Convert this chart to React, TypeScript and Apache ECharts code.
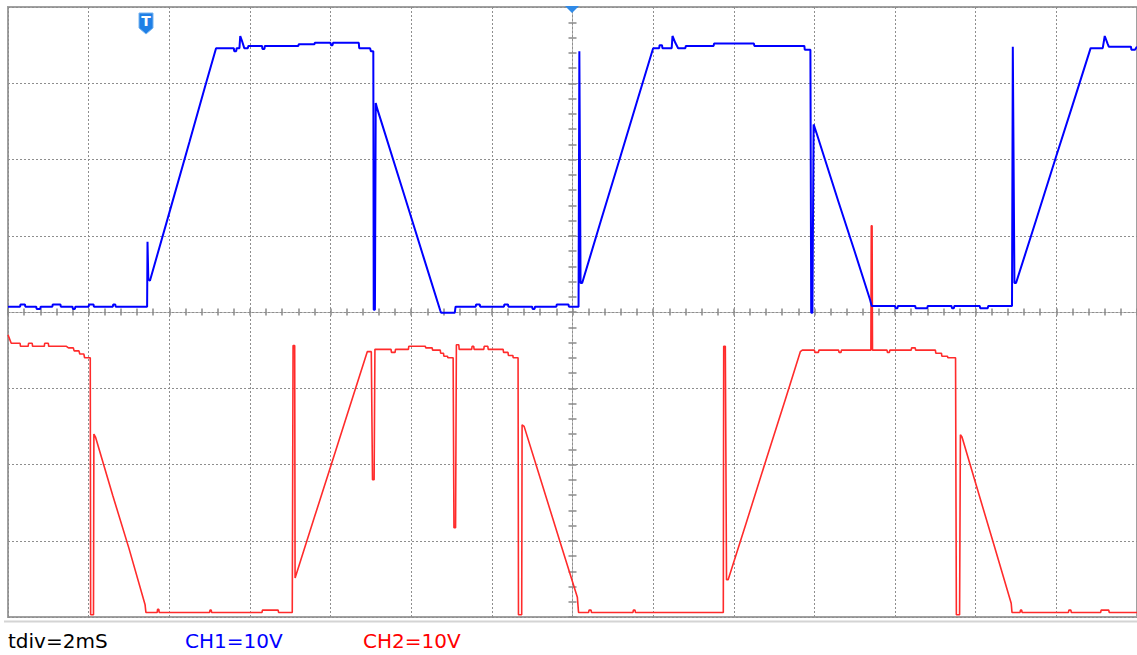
import React, { useEffect, useRef } from "react";
import * as echarts from "echarts";

// time in ms (2 ms/div, 14 div), volts (10 V/div)
const ch1Data: [number, number][] = [
  [0, 0.7], [0.3, 0.7], [0.31, 1.0], [0.42, 1.0], [0.43, 0.7], [0.7, 0.7], [0.71, 0.4], [0.8, 0.4], [0.81, 0.7],
  [1.1, 0.7], [1.11, 1.0], [1.3, 1.0], [1.31, 0.7], [1.6, 0.7], [1.61, 0.4], [1.66, 0.4], [1.67, 0.7],
  [2.0, 0.7], [2.01, 1.0], [2.12, 1.0], [2.13, 0.7], [2.6, 0.7], [2.61, 1.0], [2.66, 1.0], [2.67, 0.7], [3.45, 0.7],
  [3.46, 9.2], [3.48, 4.3], [3.52, 4.1], [4.0, 13.0], [4.5, 22.3], [4.9, 29.8], [5.16, 34.6],
  [5.6, 34.6], [5.61, 34.2], [5.66, 34.2], [5.67, 34.6], [5.74, 34.6], [5.76, 36.2], [5.8, 35.6], [5.86, 34.6],
  [5.95, 34.6], [5.96, 34.9], [6.3, 34.9], [6.31, 34.5], [6.36, 34.5], [6.37, 34.9], [7.2, 34.9], [7.21, 35.1],
  [7.6, 35.1], [7.61, 35.3], [8.0, 35.3], [8.01, 35.0], [8.05, 35.0], [8.06, 35.3], [8.7, 35.3], [8.71, 34.6],
  [8.98, 34.6], [9.0, 34.2], [9.06, 34.2], [9.07, 0.3], [9.1, 0.3], [9.12, 27.4], [9.16, 26.6], [9.25, 25.1],
  [9.8, 15.8], [10.3, 7.3], [10.72, 0.2], [10.74, -0.1], [11.08, -0.1], [11.1, 0.7],
  [11.6, 0.7], [11.61, 1.0], [11.7, 1.0], [11.71, 0.7], [12.3, 0.7], [12.31, 1.0], [12.4, 1.0], [12.41, 0.7],
  [13.0, 0.7], [13.01, 0.4], [13.06, 0.4], [13.07, 0.7], [13.6, 0.7], [13.61, 1.0], [13.9, 1.0], [13.91, 0.7],
  [14.15, 0.7], [14.17, 34.2], [14.2, 3.8], [14.24, 3.8], [14.7, 11.9], [15.2, 20.6], [15.6, 27.6], [16.0, 34.6],
  [16.15, 34.6], [16.16, 35.0], [16.22, 35.0], [16.23, 34.6], [16.46, 34.6], [16.48, 36.2], [16.55, 35.3],
  [16.62, 34.6], [16.8, 34.6], [16.81, 34.9], [17.5, 34.9], [17.51, 35.2], [18.5, 35.2], [18.51, 34.9],
  [19.75, 34.9], [19.76, 34.4], [19.9, 34.4], [19.92, -0.1], [19.95, -0.1], [19.98, 24.6], [20.05, 23.5],
  [20.6, 14.4], [21.0, 7.9], [21.38, 1.6], [21.42, 0.8], [22.0, 0.8], [22.01, 0.5], [22.06, 0.5], [22.07, 0.8],
  [22.5, 0.8], [22.51, 0.5], [22.8, 0.5], [22.81, 0.8], [23.4, 0.8], [23.41, 0.5], [23.46, 0.5], [23.47, 0.8],
  [24.1, 0.8], [24.11, 0.5], [24.3, 0.5], [24.31, 0.8], [24.9, 0.8],
  [24.92, 34.8], [24.96, 3.8], [25.0, 3.8], [25.5, 12.1], [26.0, 20.5], [26.4, 27.1], [26.85, 34.6],
  [27.15, 34.6], [27.2, 36.2], [27.27, 35.2], [27.3, 34.8], [27.85, 34.8], [27.86, 34.4], [27.95, 34.4], [28, 34.8],
];

// CH2 volts measured from its own ground (bottom of screen)
const ch2Data: [number, number][] = [
  [0, 37.0], [0.08, 35.9], [0.3, 35.9], [0.31, 35.5], [0.5, 35.5], [0.51, 35.9], [0.6, 35.9], [0.61, 35.5],
  [0.9, 35.5], [0.91, 35.9], [1.0, 35.9], [1.01, 35.5], [1.45, 35.5], [1.5, 35.3], [1.62, 35.3], [1.64, 34.9],
  [1.76, 34.9], [1.78, 34.5], [1.88, 34.5], [1.9, 34.0], [2.04, 34.0], [2.05, 0.3], [2.12, 0.3], [2.13, 24.0],
  [2.17, 23.6], [2.6, 15.9], [3.0, 9.0], [3.4, 1.6], [3.42, 0.6], [3.7, 0.6], [3.71, 1.0], [3.74, 1.0], [3.75, 0.6],
  [5.0, 0.6], [5.01, 0.9], [5.04, 0.9], [5.05, 0.6], [6.3, 0.6], [6.31, 0.9], [6.7, 0.9], [6.71, 0.6], [7.05, 0.6],
  [7.07, 35.6], [7.11, 35.6], [7.12, 5.1], [7.6, 13.1], [8.0, 19.7], [8.5, 28.0], [8.91, 34.8], [9.01, 34.8],
  [9.04, 18.0], [9.08, 18.0], [9.1, 35.1], [9.5, 35.1], [9.51, 34.7], [9.6, 34.7], [9.61, 35.1], [9.93, 35.1],
  [9.94, 35.5], [10.35, 35.5], [10.36, 35.3], [10.52, 35.3], [10.53, 35.0], [10.72, 35.0], [10.73, 34.6],
  [10.8, 34.6], [10.81, 34.2], [10.9, 34.2], [10.91, 34.0], [11.04, 34.0], [11.06, 11.7], [11.1, 11.7],
  [11.12, 35.7], [11.18, 35.7], [11.19, 35.1], [11.5, 35.1], [11.51, 35.5], [11.55, 35.5], [11.56, 35.1],
  [11.8, 35.1], [11.81, 35.5], [11.9, 35.5], [11.91, 35.1], [12.28, 35.1], [12.29, 34.7], [12.4, 34.7],
  [12.41, 34.3], [12.52, 34.3], [12.53, 34.0], [12.65, 34.0], [12.66, 0.3], [12.74, 0.3], [12.75, 25.2],
  [12.8, 25.0], [13.2, 18.2], [13.7, 9.7], [14.12, 2.6], [14.15, 0.6], [14.4, 0.6], [14.41, 0.9], [14.46, 0.9],
  [14.47, 0.6], [15.5, 0.6], [15.51, 0.9], [15.55, 0.9], [15.56, 0.6], [17.74, 0.6],
  [17.75, 35.5], [17.79, 35.5], [17.82, 4.9], [17.86, 4.9], [18.3, 12.2], [18.8, 20.6], [19.3, 28.9],
  [19.65, 34.8], [19.7, 35.0], [20.0, 35.0], [20.01, 34.7], [20.1, 34.7], [20.11, 35.0], [20.6, 35.0],
  [20.61, 34.7], [20.66, 34.7], [20.67, 35.0], [21.4, 35.0], [21.41, 51.3], [21.43, 51.3], [21.44, 35.0],
  [21.8, 35.0], [21.81, 34.7], [21.86, 34.7], [21.87, 35.0], [22.4, 35.0], [22.41, 35.3], [22.5, 35.3],
  [22.51, 35.0], [23.0, 35.0], [23.01, 34.6], [23.15, 34.6], [23.16, 34.2], [23.3, 34.2], [23.31, 34.0],
  [23.5, 34.0], [23.52, 0.3], [23.6, 0.3], [23.62, 23.9], [23.66, 23.6], [24.0, 17.5], [24.45, 9.5],
  [24.88, 1.8], [24.9, 0.6], [25.1, 0.6], [25.11, 0.9], [25.14, 0.9], [25.15, 0.6], [26.3, 0.6], [26.31, 0.9],
  [26.36, 0.9], [26.37, 0.6], [27.1, 0.6], [27.11, 0.9], [27.3, 0.9], [27.31, 0.6], [28, 0.6],
];

const footerTexts = ["tdiv=2mS", "CH1=10V", "CH2=10V"];

const GRID_COLOR = "#8e8e8e";
const dotted = { color: GRID_COLOR, width: 1, type: [2, 2] as any };
const tickStyle = { color: "#8a8a8a", width: 1.5 };
const FOOT_FONT = "20px 'DejaVu Sans', Verdana, sans-serif";

export default function App() {
  const ref = useRef<HTMLDivElement>(null);
  useEffect(() => {
    if (!ref.current) return;
    const chart = echarts.init(ref.current, null, { renderer: "svg" });
    const baseX = {
      type: "value" as const,
      axisLabel: { show: false },
      splitLine: { show: false },
      axisTick: { show: true, length: 3.5, lineStyle: tickStyle },
      minorTick: { show: true, splitNumber: 5, length: 3.5, lineStyle: tickStyle },
    };
    chart.setOption({
      animation: false,
      backgroundColor: "#ffffff",
      grid: {
        left: 8, top: 7, width: 1129, height: 610,
        show: true, borderColor: "#a0a0a0", borderWidth: 2,
      },
      xAxis: [
        {
          ...baseX, min: 0, max: 28, interval: 2, position: "bottom",
          splitLine: { show: true, lineStyle: dotted },
          axisLine: { show: true, onZero: true, onZeroAxisIndex: 0, lineStyle: dotted },
        },
        {
          ...baseX, min: -14, max: 14, interval: 2, position: "top",
          axisLine: { show: true, onZero: true, onZeroAxisIndex: 0, lineStyle: dotted },
        },
      ],
      yAxis: [
        {
          type: "value", min: -40, max: 40, interval: 10, position: "left",
          axisLabel: { show: false },
          splitLine: { show: true, lineStyle: dotted },
          axisLine: { show: true, onZero: true, onZeroAxisIndex: 1, lineStyle: dotted },
          axisTick: { show: true, length: 4, lineStyle: tickStyle },
          minorTick: { show: true, splitNumber: 5, length: 4, lineStyle: tickStyle },
        },
        { type: "value", min: 0, max: 80, interval: 10, show: false },
        {
          type: "value", min: -40, max: 40, interval: 10, position: "right",
          axisLabel: { show: false },
          splitLine: { show: false },
          axisLine: { show: true, onZero: true, onZeroAxisIndex: 1, lineStyle: dotted },
          axisTick: { show: true, length: 4, lineStyle: tickStyle },
          minorTick: { show: true, splitNumber: 5, length: 4, lineStyle: tickStyle },
        },
      ],
      series: [
        {
          name: "CH2", type: "line", xAxisIndex: 0, yAxisIndex: 1, data: ch2Data,
          showSymbol: false, lineStyle: { color: "#ff2b2b", width: 1.6 }, z: 3,
        },
        {
          name: "CH1", type: "line", xAxisIndex: 0, yAxisIndex: 0, data: ch1Data,
          showSymbol: false, lineStyle: { color: "#0000ff", width: 2 }, z: 4,
        },
      ],
      graphic: [
        {
          type: "line", shape: { x1: 4, y1: 621.5, x2: 1137, y2: 621.5 },
          style: { stroke: "#d4d4d4", lineWidth: 2 }, z: 1,
        },
        {
          type: "polygon",
          shape: { points: [[139, 13], [153, 13], [153, 28], [146, 34], [139, 28]] },
          style: { fill: "#1f7fe6", stroke: "#76b4f0", lineWidth: 1 }, z: 10,
        },
        {
          type: "text", x: 146, y: 21,
          style: { text: "T", fill: "#ffffff", font: "bold 14px 'DejaVu Sans'", align: "center", verticalAlign: "middle" },
          z: 11,
        },
        {
          type: "polygon",
          shape: { points: [[565, 6], [579, 6], [572, 13]] },
          style: { fill: "#2f8ae8" }, z: 10,
        },
        {
          type: "text", x: 8, y: 641,
          style: { text: footerTexts[0], fill: "#000000", font: FOOT_FONT, verticalAlign: "middle" },
        },
        {
          type: "text", x: 185, y: 641,
          style: { text: footerTexts[1], fill: "#0000ff", font: FOOT_FONT, verticalAlign: "middle" },
        },
        {
          type: "text", x: 363, y: 641,
          style: { text: footerTexts[2], fill: "#ff0000", font: FOOT_FONT, verticalAlign: "middle" },
        },
      ],
    });
    return () => chart.dispose();
  }, []);
  return (
    <div
      ref={ref}
      style={{ position: "absolute", left: 0, top: 0, width: 1137, height: 655, background: "#fff" }}
    />
  );
}
